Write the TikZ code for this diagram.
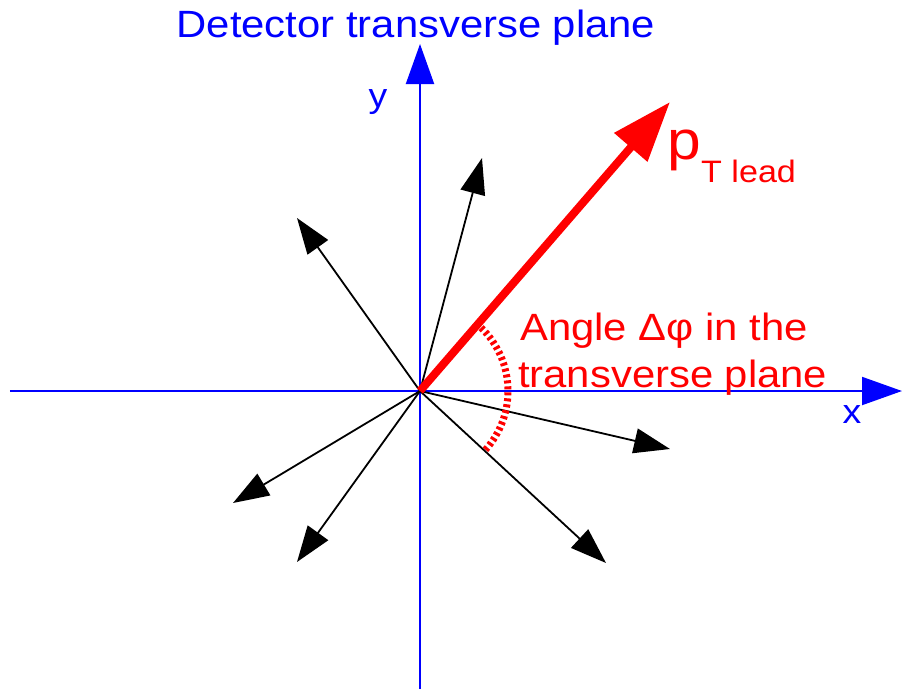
\documentclass[tikz,border=0pt]{standalone}
\usepackage{fontspec}
\setmainfont{Liberation Sans}[FakeStretch=1.1]
\usetikzlibrary{arrows.meta}
\definecolor{axblue}{HTML}{0000FF}
\definecolor{ptred}{HTML}{FF0000}
\tikzset{
  axis/.style={draw=axblue,line width=2pt,-{Triangle[length=40pt,width=28pt]}},
  trk/.style={draw=black,line width=1.8pt,-{Triangle[length=36pt,width=25pt]}},
  lead/.style={draw=ptred,line width=8pt,-{Triangle[length=60pt,width=42pt]}},
  dphi/.style={draw=ptred,line width=7pt,dash pattern=on 3pt off 3pt},
  axlab/.style={text=axblue,font=\fontsize{34}{40}\selectfont,inner sep=0pt,anchor=base},
  redlab/.style={text=ptred,font=\fontsize{38}{44}\selectfont,inner sep=0pt,anchor=base west},
}
\begin{document}
\begin{tikzpicture}[x=1pt,y=1pt]
\useasboundingbox (-420,-298) rectangle (484,391);
% ---- axes ----
\coordinate (O) at (0,0);
\coordinate (ybot) at (0,-298);
\coordinate (ytip) at (0,347);
\coordinate (xbeg) at (-410,0);
\coordinate (xtip) at (482,0);
\draw[axis] (ybot) -- (ytip);
\draw[axis] (xbeg) -- (xtip);
\node[axlab] (ylab) at (-42,284) {y};
\node[axlab] (xlab) at (432,-32) {x};
\node[axlab,font=\fontsize{38}{44}\selectfont] (title) at (-4,353) {Detector transverse plane};

% ---- other tracks ----
\coordinate (t1) at (62,233);
\coordinate (t2) at (-123,173);
\coordinate (t3) at (250,-58);
\coordinate (t4) at (186,-172);
\coordinate (t5) at (-187,-112);
\coordinate (t6) at (-123,-171);
\foreach \t in {t1,t2,t3,t4,t5,t6}
  \draw[trk] (O) -- (\t);

% ---- leading track ----
\coordinate (ptip) at (250,289);
\draw[lead] (O) -- (ptip);
\node[redlab,font=\fontsize{55}{60}\selectfont] (p) at (247,232) {p};
\node[redlab,font=\fontsize{31}{36}\selectfont] (sub) at (281,209) {T lead};

% ---- angle ----
\draw[dphi] (O) ++(46:88) arc[start angle=46,end angle=-42,radius=88];
\node[redlab] (ang1) at (100,51) {Angle Δφ in the};
\node[redlab] (ang2) at (98,4) {transverse plane};
\end{tikzpicture}
\end{document}
